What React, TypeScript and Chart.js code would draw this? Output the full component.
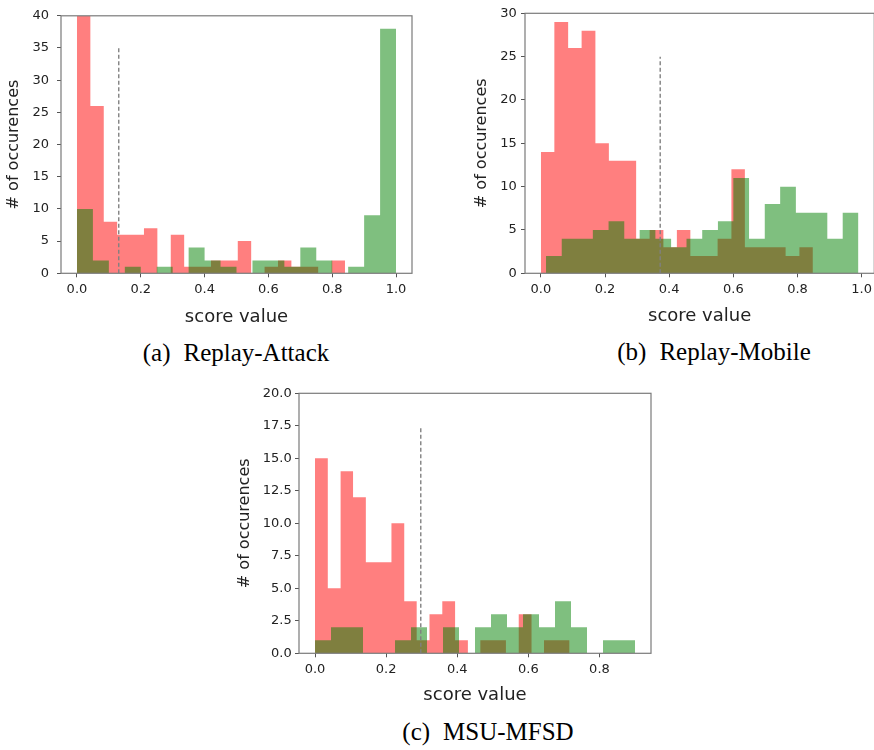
import React, { useEffect, useRef } from 'react';
import { Chart, registerables } from 'chart.js';

Chart.register(...registerables);

// ---------- Panel (a) Replay-Attack ----------
const A_RED_EDGES = [0, 0.042, 0.084, 0.126, 0.168, 0.21, 0.252, 0.294, 0.336, 0.378, 0.42, 0.462, 0.504, 0.546, 0.588, 0.63, 0.672, 0.714, 0.756, 0.798, 0.84];
const A_RED_COUNTS = [40, 26, 8, 6, 6, 7, 0, 6, 1, 1, 2, 2, 5, 0, 1, 2, 1, 1, 0, 2];
const A_GREEN_EDGES = [0, 0.05, 0.1, 0.15, 0.2, 0.25, 0.3, 0.35, 0.4, 0.45, 0.5, 0.55, 0.6, 0.65, 0.7, 0.75, 0.8, 0.85, 0.9, 0.95, 1.0];
const A_GREEN_COUNTS = [10, 2, 0, 1, 0, 1, 0, 4, 2, 1, 0, 2, 2, 1, 4, 2, 0, 1, 9, 38];
const A_THRESHOLD = 0.131;
const A_THRESHOLD_TOP = 35;
const A_X_TICKS = [0, 0.2, 0.4, 0.6, 0.8, 1.0];
const A_Y_TICKS = [0, 5, 10, 15, 20, 25, 30, 35, 40];
const A_CAPTION_TAG = '(a)';
const A_CAPTION = 'Replay-Attack';

// ---------- Panel (b) Replay-Mobile ----------
const B_RED_EDGES = [0, 0.042, 0.085, 0.127, 0.17, 0.212, 0.254, 0.297, 0.339, 0.382, 0.424, 0.466, 0.509, 0.551, 0.594, 0.636, 0.678, 0.721, 0.763, 0.806, 0.848];
const B_RED_COUNTS = [14, 29, 26, 28, 15, 13, 13, 4, 5, 3, 5, 2, 2, 4, 12, 3, 3, 3, 2, 3];
const B_GREEN_EDGES = [0.016, 0.065, 0.113, 0.162, 0.211, 0.26, 0.308, 0.357, 0.406, 0.454, 0.503, 0.552, 0.6, 0.649, 0.698, 0.746, 0.795, 0.844, 0.893, 0.941, 0.99];
const B_GREEN_COUNTS = [2, 4, 4, 5, 6, 4, 5, 4, 3, 4, 5, 6, 11, 4, 8, 10, 7, 7, 4, 7];
const B_THRESHOLD = 0.372;
const B_THRESHOLD_TOP = 25;
const B_X_TICKS = [0, 0.2, 0.4, 0.6, 0.8, 1.0];
const B_Y_TICKS = [0, 5, 10, 15, 20, 25, 30];
const B_CAPTION_TAG = '(b)';
const B_CAPTION = 'Replay-Mobile';

// ---------- Panel (c) MSU-MFSD ----------
const C_RED_EDGES = [0, 0.036, 0.072, 0.107, 0.143, 0.179, 0.215, 0.251, 0.286, 0.322, 0.358, 0.394, 0.43, 0.465, 0.501, 0.537, 0.573, 0.609, 0.644, 0.68, 0.716];
const C_RED_COUNTS = [15, 5, 14, 12, 7, 7, 10, 4, 1, 3, 4, 1, 0, 1, 1, 0, 3, 0, 1, 1];
const C_GREEN_EDGES = [0, 0.045, 0.09, 0.135, 0.18, 0.225, 0.27, 0.315, 0.36, 0.405, 0.45, 0.495, 0.54, 0.585, 0.63, 0.675, 0.72, 0.765, 0.81, 0.855, 0.9];
const C_GREEN_COUNTS = [1, 2, 2, 0, 0, 1, 2, 0, 2, 0, 2, 3, 2, 3, 2, 4, 2, 0, 1, 1];
const C_THRESHOLD = 0.2975;
const C_THRESHOLD_TOP = 17.5;
const C_X_TICKS = [0, 0.2, 0.4, 0.6, 0.8];
const C_Y_TICKS = [0, 2.5, 5, 7.5, 10, 12.5, 15, 17.5, 20];
const C_CAPTION_TAG = '(c)';
const C_CAPTION = 'MSU-MFSD';

const X_TITLE = 'score value';
const Y_TITLE = '# of occurences';

const RED = 'rgba(255,0,0,0.5)';
const GREEN = 'rgba(0,128,0,0.5)';
const TEXT = '#222';
const FONT = '"DejaVu Sans", sans-serif';

function histPoints(edges: number[], counts: number[]) {
  const pts = counts.map((c, i) => ({ x: edges[i], y: c }));
  pts.push({ x: edges[edges.length - 1], y: counts[counts.length - 1] });
  return pts;
}

const framePlugin = {
  id: 'frame',
  afterDatasetsDraw(chart: any) {
    const { ctx, chartArea } = chart;
    const { left, top, right, bottom } = chartArea;
    ctx.save();
    ctx.strokeStyle = '#7a7a7a';
    ctx.lineWidth = 1.2;
    ctx.strokeRect(left, top, right - left, bottom - top);
    ctx.restore();
  },
};

type PanelCfg = {
  left: number; top: number; w: number; h: number;
  yAxisW: number; xAxisH: number; padTop: number; padRight: number;
  xMin: number; xMax: number; yMax: number;
  xTicks: number[]; yTicks: number[]; yDecimals: number;
  redEdges: number[]; redCounts: number[]; greenEdges: number[]; greenCounts: number[];
  thr: number; thrTop: number;
  yTickPad: number; yTitlePad: number; xTitlePad: number;
};

function Histogram({ cfg }: { cfg: PanelCfg }) {
  const ref = useRef<HTMLCanvasElement | null>(null);
  useEffect(() => {
    if (!ref.current) return;
    const chart = new Chart(ref.current, {
      type: 'line',
      data: {
        datasets: [
          {
            data: [{ x: cfg.thr, y: 0 }, { x: cfg.thr, y: cfg.thrTop }],
            borderColor: '#808080',
            borderWidth: 1.4,
            borderDash: [4, 2.5],
            pointRadius: 0,
            fill: false,
          },
          {
            data: histPoints(cfg.greenEdges, cfg.greenCounts),
            stepped: 'before',
            backgroundColor: GREEN,
            borderColor: 'rgba(0,0,0,0)',
            borderWidth: 0,
            pointRadius: 0,
            fill: 'origin',
          },
          {
            data: histPoints(cfg.redEdges, cfg.redCounts),
            stepped: 'before',
            backgroundColor: RED,
            borderColor: 'rgba(0,0,0,0)',
            borderWidth: 0,
            pointRadius: 0,
            fill: 'origin',
          },
        ] as any,
      },
      options: {
        responsive: false,
        devicePixelRatio: 1,
        animation: false,
        events: [],
        layout: { padding: { top: cfg.padTop, right: cfg.padRight, bottom: 0, left: 0 } },
        plugins: { legend: { display: false }, tooltip: { enabled: false } },
        scales: {
          x: {
            type: 'linear',
            min: cfg.xMin,
            max: cfg.xMax,
            afterBuildTicks: (s: any) => { s.ticks = cfg.xTicks.map((v) => ({ value: v })); },
            afterFit: (s: any) => { s.height = cfg.xAxisH; },
            grid: { display: true, drawOnChartArea: false, drawTicks: true, tickLength: 4, color: '#555', lineWidth: 1 },
            border: { display: false },
            ticks: {
              padding: 5,
              color: TEXT,
              font: { family: FONT, size: 13 },
              maxRotation: 0,
              callback: (v: any) => Number(v).toFixed(1),
            },
            title: {
              display: true,
              text: X_TITLE,
              color: TEXT,
              font: { family: FONT, size: 18 },
              padding: { top: 0, bottom: cfg.xTitlePad },
            },
          },
          y: {
            type: 'linear',
            min: 0,
            max: cfg.yMax,
            afterBuildTicks: (s: any) => { s.ticks = cfg.yTicks.map((v) => ({ value: v })); },
            afterFit: (s: any) => { s.width = cfg.yAxisW; },
            grid: { display: true, drawOnChartArea: false, drawTicks: true, tickLength: 4, color: '#555', lineWidth: 1 },
            border: { display: false },
            ticks: {
              padding: cfg.yTickPad,
              color: TEXT,
              font: { family: FONT, size: 13 },
              callback: (v: any) => Number(v).toFixed(cfg.yDecimals),
            },
            title: {
              display: true,
              text: Y_TITLE,
              color: TEXT,
              font: { family: FONT, size: 16 },
              padding: { top: cfg.yTitlePad, bottom: 0 },
            },
          },
        },
      } as any,
      plugins: [framePlugin],
    });
    return () => chart.destroy();
  }, []);
  return (
    <canvas
      ref={ref}
      width={cfg.w}
      height={cfg.h}
      style={{ position: 'absolute', left: cfg.left, top: cfg.top, width: cfg.w, height: cfg.h }}
    />
  );
}

function Caption({ cx, cy, tag, text }: { cx: number; cy: number; tag: string; text: string }) {
  return (
    <div
      style={{
        position: 'absolute', left: cx - 200, top: cy - 15, width: 400, height: 30,
        display: 'flex', justifyContent: 'center', alignItems: 'center',
        fontFamily: '"Liberation Serif", "Times New Roman", serif', fontSize: 25,
        lineHeight: '30px', color: '#000', whiteSpace: 'nowrap',
      }}
    >
      <span>{tag}</span>
      <span style={{ marginLeft: 13 }}>{text}</span>
    </div>
  );
}

const PANEL_A: PanelCfg = {
  left: 0, top: 0, w: 440, h: 335, yAxisW: 61, xAxisH: 61.7, padTop: 13.3, padRight: 28,
  xMin: -0.05, xMax: 1.05, yMax: 40, xTicks: A_X_TICKS, yTicks: A_Y_TICKS, yDecimals: 0,
  redEdges: A_RED_EDGES, redCounts: A_RED_COUNTS, greenEdges: A_GREEN_EDGES, greenCounts: A_GREEN_COUNTS,
  thr: A_THRESHOLD, thrTop: A_THRESHOLD_TOP, yTickPad: 8, yTitlePad: 4.4, xTitlePad: 7.2,
};

const PANEL_B: PanelCfg = {
  left: 440, top: 0, w: 440, h: 335, yAxisW: 85, xAxisH: 61.7, padTop: 13.3, padRight: 5.7,
  xMin: -0.0495, xMax: 1.0395, yMax: 30, xTicks: B_X_TICKS, yTicks: B_Y_TICKS, yDecimals: 0,
  redEdges: B_RED_EDGES, redCounts: B_RED_COUNTS, greenEdges: B_GREEN_EDGES, greenCounts: B_GREEN_COUNTS,
  thr: B_THRESHOLD, thrTop: B_THRESHOLD_TOP, yTickPad: 4.3, yTitlePad: 32, xTitlePad: 7.5,
};

const PANEL_C: PanelCfg = {
  left: 220, top: 370, w: 440, h: 345, yAxisW: 79, xAxisH: 61.7, padTop: 23.3, padRight: 9,
  xMin: -0.045, xMax: 0.945, yMax: 20, xTicks: C_X_TICKS, yTicks: C_Y_TICKS, yDecimals: 1,
  redEdges: C_RED_EDGES, redCounts: C_RED_COUNTS, greenEdges: C_GREEN_EDGES, greenCounts: C_GREEN_COUNTS,
  thr: C_THRESHOLD, thrTop: C_THRESHOLD_TOP, yTickPad: 3.3, yTitlePad: 15.4, xTitlePad: 9.2,
};

export default function App() {
  return (
    <div style={{ position: 'absolute', left: 0, top: 0, width: 874, height: 750, overflow: 'hidden', background: '#fff' }}>
      <Histogram cfg={PANEL_A} />
      <Histogram cfg={PANEL_B} />
      <Histogram cfg={PANEL_C} />
      <Caption cx={236} cy={353} tag={A_CAPTION_TAG} text={A_CAPTION} />
      <Caption cx={714} cy={352} tag={B_CAPTION_TAG} text={B_CAPTION} />
      <Caption cx={488} cy={732} tag={C_CAPTION_TAG} text={C_CAPTION} />
    </div>
  );
}
